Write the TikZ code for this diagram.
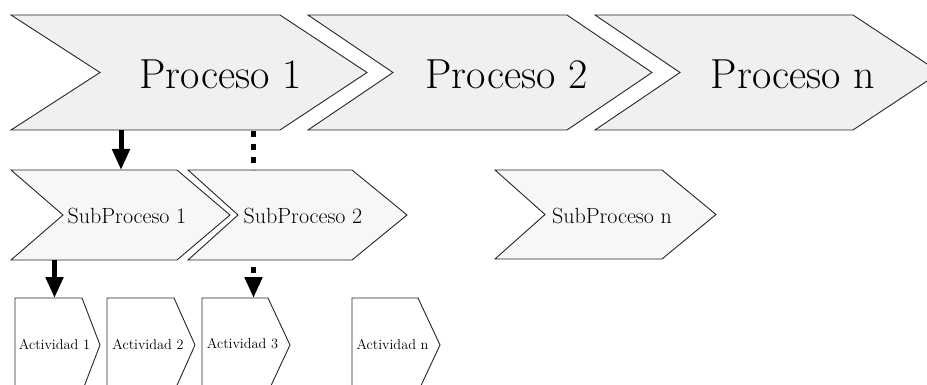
\documentclass[tikz,border=0pt]{standalone}
\usepackage{fontspec}
\usetikzlibrary{arrows.meta}

\tikzset{
  % invisible frame that gives each chevron its extent and anchors
  frame/.style={rectangle, inner sep=0pt, outer sep=0pt, anchor=north west},
  % chevron outline: notch depth #2 on the left, point depth #3 on the right
  chev/.style n args={3}{insert path={
    (#1.north west) -- ([xshift=-#3]#1.north east) -- (#1.east)
    -- ([xshift=-#3]#1.south east) -- (#1.south west)
    -- ([xshift=#2]#1.west) -- cycle}},
  outline/.style={draw=black!85, line width=0.9pt, line join=miter},
  procfill/.style={outline, fill=black!6},
  subfill/.style={outline, fill=black!3},
  actfill/.style={outline, fill=white},
  proctext/.style={inner sep=0pt, font=\fontsize{42}{44}\selectfont},
  subtext/.style={inner sep=0pt, font=\fontsize{22}{24}\selectfont},
  acttext/.style={inner sep=0pt, font=\fontsize{14.3}{16}\selectfont},
  link/.style={line width=5pt, -{Triangle[length=21pt, width=17pt]}},
  dotlink/.style={line width=5pt, dash pattern=on 6pt off 7pt},
}

\begin{document}
\begin{tikzpicture}[x=1pt, y=-1pt]
  \useasboundingbox (0,0) rectangle (927,385);
  \clip (0,0) rectangle (927,385);

  % process row
  \node[frame, minimum width=356pt, minimum height=115pt] (P1) at (11,15) {};
  \node[frame, minimum width=344pt, minimum height=115pt] (P2) at (308,15) {};
  \node[frame, minimum width=345pt, minimum height=115pt] (Pn) at (595,15) {};
  \draw[procfill, chev={P1}{89pt}{87pt}];
  \draw[procfill, chev={P2}{85pt}{85pt}];
  \draw[procfill, chev={Pn}{85pt}{87pt}];
  \node[proctext] (P1t) at (220.5,74.5) {Proceso 1};
  \node[proctext] (P2t) at (506.5,74.5) {Proceso 2};
  \node[proctext] (Pnt) at (793,74.5) {Proceso n};

  % subprocess row
  \node[frame, minimum width=219pt, minimum height=90pt] (S1) at (11,170) {};
  \node[frame, minimum width=219pt, minimum height=90pt] (S2) at (188,170) {};
  \node[frame, minimum width=221pt, minimum height=89pt] (Sn) at (495,170) {};
  \draw[subfill, chev={S1}{52pt}{53pt}];
  \draw[subfill, chev={S2}{50pt}{55pt}];
  \draw[subfill, chev={Sn}{50pt}{54pt}];
  \node[subtext] (S1t) at (127,216) {SubProceso 1};
  \node[subtext] (S2t) at (303,216) {SubProceso 2};
  \node[subtext] (Snt) at (612,216) {SubProceso n};

  % activity row
  \node[frame, minimum width=85pt, minimum height=94pt] (A1) at (15,298) {};
  \node[frame, minimum width=88pt, minimum height=94pt] (A2) at (107,298) {};
  \node[frame, minimum width=88pt, minimum height=94pt] (A3) at (202,298) {};
  \node[frame, minimum width=88pt, minimum height=94pt] (An) at (352,298) {};
  \draw[actfill, chev={A1}{0pt}{18pt}];
  \draw[actfill, chev={A2}{0pt}{21pt}];
  \draw[actfill, chev={A3}{0pt}{22pt}];
  \draw[actfill, chev={An}{0pt}{22pt}];
  \node[acttext] (A1t) at (54.5,344) {Actividad 1};
  \node[acttext] (A2t) at (148,344) {Actividad 2};
  \node[acttext] (A3t) at (242.5,344) {Actividad 3};
  \node[acttext] (Ant) at (392.5,344) {Actividad n};

  % connectors
  \draw[link] ([xshift=110pt]S1.north west |- P1.south) -- ([xshift=110pt]S1.north west);
  \draw[dotlink, dash phase=12pt] ([xshift=65.5pt]S2.north west |- P1.south) -- ([xshift=65.5pt]S2.north west);
  \draw[link] ([xshift=39.5pt]A1.north west |- S1.south) -- ([xshift=39.5pt]A1.north west);
  \draw[link, dotlink, dash phase=6pt] ([xshift=51.5pt]A3.north west |- S2.south) -- ([xshift=51.5pt]A3.north west);
\end{tikzpicture}
\end{document}
